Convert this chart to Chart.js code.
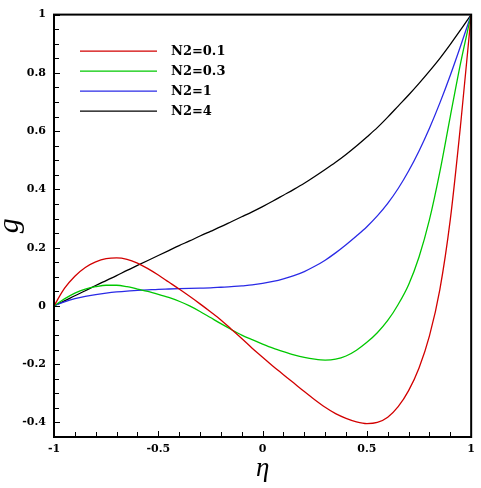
<!DOCTYPE html>
<html>
<head>
<meta charset="utf-8">
<script src="https://cdn.jsdelivr.net/npm/chart.js@4/dist/chart.umd.min.js"></script>
<style>
  html, body { margin: 0; padding: 0; background: #ffffff; }
  #wrap { width: 481px; height: 488px; }
</style>
</head>
<body>
<div id="wrap"><canvas id="c" width="481" height="488"></canvas></div>
<script>
// ---- data ----
const eta = [-1,-0.95,-0.9,-0.85,-0.8,-0.75,-0.7,-0.65,-0.6,-0.55,-0.5,-0.45,-0.4,-0.35,-0.3,-0.25,-0.2,-0.15,-0.1,-0.05,
             0,0.05,0.1,0.15,0.2,0.25,0.3,0.35,0.4,0.45,0.5,0.55,0.6,0.65,0.7,0.75,0.8,0.85,0.9,0.95,1];

const gN01 = [0,0.060,0.102,0.132,0.151,0.162,0.165,0.160,0.147,0.128,0.106,0.082,0.058,0.033,0.007,-0.020,-0.048,-0.080,-0.112,-0.145,
              -0.176,-0.207,-0.236,-0.265,-0.294,-0.322,-0.348,-0.370,-0.386,-0.398,-0.404,-0.400,-0.382,-0.346,-0.291,-0.213,-0.103,0.057,0.297,0.627,1];

const gN03 = [0,0.024,0.044,0.058,0.066,0.071,0.071,0.066,0.058,0.050,0.040,0.029,0.016,0.000,-0.019,-0.040,-0.061,-0.081,-0.100,-0.116,
              -0.131,-0.145,-0.157,-0.168,-0.177,-0.183,-0.186,-0.183,-0.172,-0.152,-0.125,-0.092,-0.050,0.005,0.073,0.168,0.296,0.461,0.651,0.836,1];

const gN1  = [0,0.014,0.025,0.033,0.039,0.044,0.048,0.051,0.053,0.055,0.057,0.058,0.059,0.060,0.061,0.062,0.064,0.066,0.069,0.072,
              0.077,0.084,0.093,0.104,0.118,0.136,0.157,0.182,0.210,0.240,0.272,0.309,0.352,0.403,0.463,0.532,0.610,0.697,0.792,0.894,1];

const gN4  = [0,0.017,0.035,0.052,0.070,0.087,0.104,0.122,0.139,0.156,0.173,0.190,0.207,0.223,0.240,0.256,0.272,0.289,0.306,0.323,
              0.341,0.360,0.380,0.400,0.421,0.444,0.468,0.493,0.520,0.549,0.580,0.612,0.648,0.686,0.724,0.764,0.806,0.850,0.898,0.948,1];

const seriesLabels = ['N2=0.1','N2=0.3','N2=1','N2=4'];
const seriesColors = ['#d20000','#00c800','#2a2ae6','#000000'];

const xTickValues = [-1,-0.5,0,0.5,1];
const xTickLabels = ['-1','-0.5','0','0.5','1'];
const yTickValues = [-0.4,-0.2,0,0.2,0.4,0.6,0.8,1];
const yTickLabels = ['-0.4','-0.2','0','0.2','0.4','0.6','0.8','1'];

// ---- build chart ----
const allSeries = [gN01, gN03, gN1, gN4];
const datasets = allSeries.map((s, i) => ({
  label: seriesLabels[i],
  data: eta.map((x, k) => ({ x: x, y: s[k] })),
  borderColor: seriesColors[i],
  borderWidth: 1.3,
  pointRadius: 0,
  fill: false,
  cubicInterpolationMode: 'monotone'
}));

const tickFont = { family: 'DejaVu Serif', weight: 'bold', size: 11 };

const framePlugin = {
  id: 'frame',
  afterDraw(chart) {
    const ctx = chart.ctx;
    const a = chart.chartArea;
    const xs = chart.scales.x, ys = chart.scales.y;
    ctx.save();
    // tick marks (inward) on left and bottom axes
    ctx.strokeStyle = '#000';
    ctx.lineWidth = 1;
    ctx.beginPath();
    for (let k = -10; k <= 10; k++) {
      const v = k / 10;
      const px = Math.round(xs.getPixelForValue(v)) + 0.5;
      const major = (k % 5 === 0);
      const len = major ? 6 : 5;
      ctx.moveTo(px, a.bottom);
      ctx.lineTo(px, a.bottom - len);
    }
    for (let k = -9; k <= 20; k++) {
      const v = k / 20;
      const py = Math.round(ys.getPixelForValue(v)) + 0.5;
      const major = (k % 4 === 0);
      const len = major ? 6 : 5;
      ctx.moveTo(a.left, py);
      ctx.lineTo(a.left + len, py);
    }
    ctx.stroke();
    // frame
    ctx.lineWidth = 2;
    ctx.strokeRect(a.left, a.top, a.right - a.left, a.bottom - a.top);
    // legend
    ctx.font = 'bold 13px "DejaVu Serif"';
    ctx.textBaseline = 'middle';
    ctx.textAlign = 'left';
    chart.data.datasets.forEach((ds, i) => {
      const y = a.top + 36.5 + i * 20;
      ctx.strokeStyle = ds.borderColor;
      ctx.lineWidth = 1.3;
      ctx.beginPath();
      ctx.moveTo(80, y);
      ctx.lineTo(157, y);
      ctx.stroke();
      ctx.fillStyle = '#000';
      ctx.fillText(ds.label, 171, y + 1);
    });
    ctx.restore();
  }
};

new Chart(document.getElementById('c'), {
  type: 'line',
  data: { datasets: datasets },
  options: {
    responsive: false,
    animation: false,
    devicePixelRatio: 1,
    layout: { padding: { top: 7, right: 8, left: 0, bottom: 0 } },
    plugins: { legend: { display: false }, tooltip: { enabled: false } },
    scales: {
      x: {
        type: 'linear',
        min: -1, max: 1,
        grid: { display: false, drawTicks: false },
        border: { display: false },
        afterBuildTicks(s) { s.ticks = xTickValues.map(v => ({ value: v })); },
        afterFit(s) { s.height = 51; },
        ticks: {
          font: tickFont, color: '#000', padding: 6, maxRotation: 0, autoSkip: false,
          callback(v, i) { return xTickLabels[i]; }
        },
        title: {
          display: true, text: 'η', color: '#000', padding: 0,
          font: { family: 'Liberation Serif', style: 'italic', size: 27, lineHeight: 1.4 }
        }
      },
      y: {
        type: 'linear',
        min: -0.45, max: 1,
        grid: { display: false, drawTicks: false },
        border: { display: false },
        afterBuildTicks(s) { s.ticks = yTickValues.map(v => ({ value: v })); },
        afterFit(s) { s.width = 54; },
        ticks: {
          font: tickFont, color: '#000', padding: 8, autoSkip: false,
          callback(v, i) { return yTickLabels[i]; }
        },
        title: {
          display: true, text: 'g', color: '#000', padding: 0,
          font: { family: 'Liberation Serif', style: 'italic', size: 30, lineHeight: 0.7 }
        }
      }
    }
  },
  plugins: [framePlugin]
});
</script>
</body>
</html>
